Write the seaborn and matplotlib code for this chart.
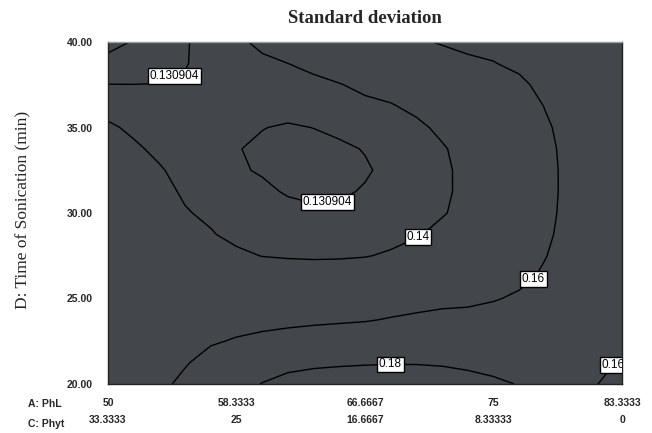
import numpy as np
import pandas as pd
import matplotlib
matplotlib.use("Agg")
import matplotlib.pyplot as plt
import seaborn as sns

# ---- data ----
# D: Time of Sonication (min) grid rows, bottom to top
time_grid = [20.0, 21.25, 22.5, 23.75, 25.0, 26.25, 27.5, 28.75, 30.0,
             31.25, 32.5, 33.75, 35.0, 36.25, 37.5, 38.75, 40.0]
# A: PhL grid columns
phl_grid = [50.0, 51.6667, 53.3333, 55.0, 56.6667, 58.3333, 60.0, 61.6667, 63.3333, 65.0, 66.6667,
            68.3333, 70.0, 71.6667, 73.3333, 75.0, 76.6667, 78.3333, 80.0, 81.6667, 83.3333]
# standard deviation estimated along each PhL column (bottom to top)
sd_a50_00 = [0.150, 0.152, 0.154, 0.155, 0.155, 0.1535, 0.151, 0.1495, 0.148, 0.147, 0.1455, 0.1437, 0.1412, 0.1372, 0.1311, 0.1236, 0.1162]
sd_a51_67 = [0.154, 0.155, 0.1555, 0.1555, 0.155, 0.153, 0.1505, 0.148, 0.146, 0.1445, 0.1425, 0.1412, 0.1386, 0.1348, 0.1310, 0.1259, 0.1208]
sd_a53_33 = [0.157, 0.1575, 0.157, 0.156, 0.154, 0.1515, 0.149, 0.1465, 0.1445, 0.1425, 0.1407, 0.1384, 0.1359, 0.1335, 0.1311, 0.128, 0.1245]
sd_a55_00 = [0.163, 0.159, 0.1564, 0.1538, 0.1512, 0.1485, 0.1459, 0.1433, 0.1406, 0.1389, 0.1375, 0.136, 0.1346, 0.1332, 0.1317, 0.1305, 0.1302]
sd_a56_67 = [0.169, 0.1644, 0.1588, 0.1552, 0.1515, 0.1479, 0.1443, 0.1406, 0.1385, 0.1368, 0.1350, 0.1342, 0.1338, 0.1333, 0.1332, 0.1335, 0.1342]
sd_a58_33 = [0.175, 0.168, 0.161, 0.1559, 0.1512, 0.1464, 0.1417, 0.1378, 0.1352, 0.1333, 0.1318, 0.1312, 0.1318, 0.1332, 0.1348, 0.1365, 0.1385]
sd_a60_00 = [0.1805, 0.1723, 0.1631, 0.1563, 0.1508, 0.1453, 0.1398, 0.1374, 0.1349, 0.1324, 0.1302, 0.1298, 0.1311, 0.1336, 0.1360, 0.1385, 0.1417]
sd_a61_67 = [0.1854, 0.1752, 0.1651, 0.1569, 0.1508, 0.1447, 0.1393, 0.1362, 0.1332, 0.1302, 0.1292, 0.1290, 0.1302, 0.1335, 0.1367, 0.1400, 0.1446]
sd_a63_33 = [0.1875, 0.1771, 0.1667, 0.1577, 0.1511, 0.1446, 0.139, 0.1354, 0.1319, 0.1297, 0.1288, 0.1288, 0.131, 0.1345, 0.138, 0.1421, 0.1474]
sd_a65_00 = [0.1884, 0.1781, 0.1679, 0.1584, 0.1517, 0.145, 0.1391, 0.1358, 0.1325, 0.1297, 0.1288, 0.1295, 0.1326, 0.1361, 0.1396, 0.1448, 0.1503]
sd_a66_67 = [0.1888, 0.1788, 0.1688, 0.1592, 0.1524, 0.1457, 0.1396, 0.1369, 0.1343, 0.1316, 0.1300, 0.1313, 0.1349, 0.138, 0.142, 0.1475, 0.1531]
sd_a68_33 = [0.1884, 0.1792, 0.17, 0.1608, 0.1541, 0.1476, 0.141, 0.1375, 0.1352, 0.1337, 0.133, 0.1335, 0.1355, 0.1392, 0.1444, 0.15, 0.156]
sd_a70_00 = [0.1884, 0.1792, 0.1707, 0.1621, 0.1557, 0.15, 0.1442, 0.1392, 0.1372, 0.136, 0.1356, 0.136, 0.1378, 0.1424, 0.1479, 0.1533, 0.1588]
sd_a71_67 = [0.1865, 0.1787, 0.1709, 0.1631, 0.1571, 0.1522, 0.1474, 0.1425, 0.1393, 0.1385, 0.1383, 0.139, 0.1422, 0.1469, 0.1515, 0.1561, 0.1607]
sd_a73_33 = [0.1844, 0.1775, 0.1706, 0.1637, 0.1575, 0.1525, 0.148, 0.1447, 0.1428, 0.1422, 0.1425, 0.1437, 0.146, 0.1495, 0.154, 0.1585, 0.162]
sd_a75_00 = [0.182, 0.1763, 0.1706, 0.1648, 0.1592, 0.1545, 0.1505, 0.1478, 0.1463, 0.1458, 0.146, 0.147, 0.1488, 0.1515, 0.155, 0.1597, 0.1625]
sd_a76_67 = [0.1795, 0.175, 0.1706, 0.1661, 0.1616, 0.1575, 0.1548, 0.153, 0.1518, 0.1512, 0.1512, 0.1518, 0.153, 0.155, 0.1582, 0.1618, 0.1645]
sd_a78_33 = [0.1725, 0.171, 0.169, 0.1665, 0.1638, 0.1615, 0.1596, 0.1582, 0.1574, 0.157, 0.157, 0.1575, 0.1586, 0.1603, 0.1625, 0.1642, 0.1652]
sd_a80_00 = [0.1664, 0.1668, 0.167, 0.1668, 0.1662, 0.1653, 0.1643, 0.1635, 0.163, 0.1628, 0.1628, 0.163, 0.1635, 0.1642, 0.165, 0.1655, 0.1658]
sd_a81_67 = [0.1604, 0.1628, 0.1652, 0.1665, 0.1672, 0.1672, 0.167, 0.1665, 0.1662, 0.166, 0.166, 0.1661, 0.1663, 0.1665, 0.1668, 0.167, 0.167]
sd_a83_33 = [0.1545, 0.159, 0.1635, 0.1658, 0.1672, 0.1678, 0.168, 0.1678, 0.1675, 0.1673, 0.1672, 0.1672, 0.1672, 0.1673, 0.1675, 0.1677, 0.1678]

plain_levels = [0.12]
labeled_levels = [0.130904, 0.14, 0.16, 0.18]
level_labels = {0.130904: "0.130904", 0.14: "0.14", 0.16: "0.16", 0.18: "0.18"}

phl_ticks = [50, 58.3333, 66.6667, 75, 83.3333]
phl_labels = ["50", "58.3333", "66.6667", "75", "83.3333"]
phyt_labels = ["33.3333", "25", "16.6667", "8.33333", "0"]
time_ticks = [20, 25, 30, 35, 40]
time_labels = ["20.00", "25.00", "30.00", "35.00", "40.00"]

# label anchor points (PhL, time)
label_points = [(54.15, 38.3), (64.2, 30.76), (70.0, 28.77), (77.5, 26.26), (68.3, 21.7), (82.2, 21.5)]

# ---- build table ----
columns = [sd_a50_00, sd_a51_67, sd_a53_33, sd_a55_00, sd_a56_67, sd_a58_33, sd_a60_00,
           sd_a61_67, sd_a63_33, sd_a65_00, sd_a66_67, sd_a68_33, sd_a70_00, sd_a71_67,
           sd_a73_33, sd_a75_00, sd_a76_67, sd_a78_33, sd_a80_00, sd_a81_67, sd_a83_33]
df = pd.DataFrame({a: col for a, col in zip(phl_grid, columns)}, index=time_grid)

sns.set_style("white")
plt.rcParams['font.family'] = ['Liberation Sans', 'DejaVu Sans']

fig = plt.figure(figsize=(6.52, 4.33), dpi=100)
ax = fig.add_axes([108/652, 1-384/433, 514/652, 342/433])
ax.set_facecolor('#43464b')

X, Y = np.meshgrid(df.columns.values.astype(float), df.index.values.astype(float))
ax.contour(X, Y, df.values, levels=plain_levels, colors='black', linewidths=1.0)
cs = ax.contour(X, Y, df.values, levels=labeled_levels, colors='black', linewidths=1.0)
texts = ax.clabel(cs, fmt=level_labels, inline=False,
                  manual=label_points, fontsize=8.5, colors='black')
for t in texts:
    t.set_bbox(dict(facecolor='white', edgecolor='black', pad=1.4, linewidth=1.0))
    t.set_rotation(0)
    t.set_clip_on(True)

ax.set_xlim(50, 83.3333)
ax.set_ylim(20, 40)
ax.set_xticks(phl_ticks)
ax.set_xticklabels([f"{a}\n\n{c}" for a, c in zip(phl_labels, phyt_labels)],
                   fontsize=7.5, fontweight='bold', linespacing=0.85)
ax.set_yticks(time_ticks)
ax.set_yticklabels(time_labels, fontsize=7.5, fontweight='bold')
ax.tick_params(axis='x', direction='out', length=8, width=1, color='black', pad=2)
ax.tick_params(axis='y', direction='out', length=9, width=1, color='black', pad=2)
for s in ax.spines.values():
    s.set_color('#222222')
    s.set_linewidth(1.0)
ax.spines['top'].set_color('#9a9a9a')

ax.text(-0.155, -0.058, "A: PhL", transform=ax.transAxes, fontsize=7.5, fontweight='bold',
        ha='left', va='center')
ax.text(-0.155, -0.117, "C: Phyt", transform=ax.transAxes, fontsize=7.5, fontweight='bold',
        ha='left', va='center')

ax.set_title("Standard deviation", family=['Liberation Serif', 'DejaVu Serif'],
             fontweight='bold', fontsize=13.5, pad=14)
ax.set_ylabel("D: Time of Sonication (min)", family=['Liberation Serif', 'DejaVu Serif'],
              fontsize=12.5)
ax.yaxis.set_label_coords(-0.15, 0.51)

fig.savefig("out.png", dpi=100)
